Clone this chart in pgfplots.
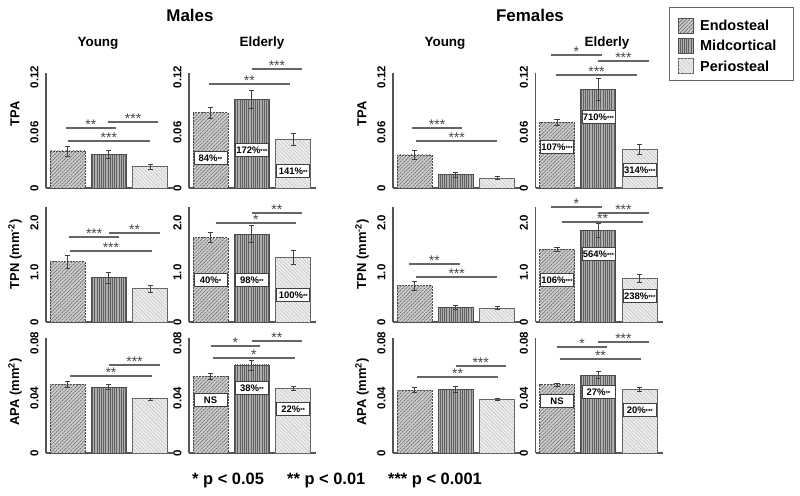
\documentclass[border=0pt]{standalone}
\usepackage{pgfplots}
\pgfplotsset{compat=1.18}
\usepackage{fontspec}
\setmainfont{Liberation Sans}
\usetikzlibrary{patterns.meta,calc}

\definecolor{axgray}{HTML}{555555}
\definecolor{siggray}{HTML}{666666}

\tikzset{
  endo/.style={fill=black!20, draw=black!70, line width=0.9bp, dash pattern=on 2bp off 1bp,
    postaction={pattern={Lines[angle=45,distance=2.6bp,line width=0.6bp]}, pattern color=black!60}},
  mid/.style={fill=black!32, draw=black!70, line width=0.9bp,
    postaction={pattern={Lines[angle=90,distance=2.2bp,line width=0.5bp]}, pattern color=black!62}},
  peri/.style={fill=black!7, draw=black!60, line width=0.9bp,
    postaction={pattern={Lines[angle=-45,distance=2.6bp,line width=0.4bp]}, pattern color=black!28}},
  sigline/.style={draw=siggray, line width=1.3bp},
  sigstar/.style={font=\fontsize{14}{14}\selectfont, text=black!72, anchor=base, inner sep=0pt, yshift=-1.8bp},
  inlab/.style={fill=white, draw=black!75, line width=0.7bp, minimum width=33bp, minimum height=13bp, inner sep=0pt, font=\bfseries\fontsize{9.5}{9.5}\selectfont},
  ylab/.style={rotate=90, font=\bfseries\fontsize{13}{13}\selectfont},
  legtxt/.style={anchor=west, inner sep=0pt, font=\bfseries\fontsize{14.5}{14.5}\selectfont},
}
\newcommand{\st}[1]{{\fontsize{6}{6}\selectfont #1}}
\newcommand{\sig}[4]{%
  \draw[sigline] (axis cs:#1,#3) -- (axis cs:#2,#3);
  \node[sigstar] at ($(axis cs:#1,#3)!0.5!(axis cs:#2,#3)$) {#4};}

\pgfplotsset{
  panel/.style={scale only axis, width=127bp, height=115bp, xmin=-0.52, xmax=2.55, ymin=0,
    axis x line*=bottom, axis y line*=left, axis line style={draw=axgray, line width=1.2bp},
    xtick=\empty, clip=false, major tick length=0pt, scaled y ticks=false,
    yticklabel style={rotate=90, anchor=south, font=\bfseries\fontsize{11.5}{11.5}\selectfont, text=black},
    yticklabel shift=4bp, anchor=south west},
  bar/.style={ybar, bar width=35bp, bar shift=0pt},
  err/.style={forget plot, draw=none, mark=none, error bars/.cd, y dir=both, y explicit,
    error bar style={draw=black!75, line width=0.8bp, solid},
    error mark options={rotate=90, mark size=2.6bp, draw=black!75, line width=0.8bp}},
  rowA/.style={ymax=0.1243, ytick={0,0.06,0.12}, yticklabels={0,0.06,0.12}},
  rowB/.style={ymax=2.32, ytick={0,1,2}, yticklabels={0,1.0,2.0}},
  rowC/.style={ymax=0.0836, ytick={0,0.04,0.08}, yticklabels={0,0.04,0.08}},
}

\begin{document}
\begin{tikzpicture}
\path[use as bounding box] (0,0) rectangle (800bp,-496bp);

% ---------------- Row 1: TPA ----------------
\begin{axis}[panel, rowA, at={(46bp,-188bp)}]
\addplot[bar, endo] coordinates {(0,0.040)};
\addplot[bar, mid] coordinates {(1,0.0365)};
\addplot[bar, peri] coordinates {(2,0.023)};
\addplot[err] coordinates {(0,0.040) +- (0,0.0054) (1,0.0365) +- (0,0.0040) (2,0.023) +- (0,0.0025)};
\sig{-0.04}{1.17}{0.0649}{**}
\sig{0.98}{2.19}{0.0714}{***}
\sig{0.01}{1.99}{0.0508}{***}
\node[ylab] at (axis description cs:-0.244,0.643) {TPA};
\end{axis}

\begin{axis}[panel, rowA, at={(189bp,-188bp)}]
\addplot[bar, endo] coordinates {(0,0.0814)};
\addplot[bar, mid] coordinates {(1,0.0959)};
\addplot[bar, peri] coordinates {(2,0.0526)};
\addplot[err] coordinates {(0,0.0814) +- (0,0.006) (1,0.0959) +- (0,0.010) (2,0.0526) +- (0,0.0063)};
\sig{-0.04}{1.92}{0.1124}{**}
\sig{1.0}{2.21}{0.1286}{***}
\node[inlab] at (axis cs:0,0.0324) {84\%\st{**}};
\node[inlab] at (axis cs:1,0.0411) {172\%\st{***}};
\node[inlab] at (axis cs:2,0.0184) {141\%\st{**}};
\end{axis}

\begin{axis}[panel, rowA, at={(393bp,-188bp)}]
\addplot[bar, endo] coordinates {(0,0.0357)};
\addplot[bar, mid] coordinates {(1,0.0144)};
\addplot[bar, peri] coordinates {(2,0.0105)};
\addplot[err] coordinates {(0,0.0357) +- (0,0.0047) (1,0.0144) +- (0,0.0025) (2,0.0105) +- (0,0.0016)};
\sig{-0.06}{1.15}{0.0649}{***}
\sig{0.04}{2.0}{0.0508}{***}
\node[ylab] at (axis description cs:-0.244,0.643) {TPA};
\end{axis}

\begin{axis}[panel, rowA, at={(535.5bp,-188bp)}]
\addplot[bar, endo] coordinates {(0,0.0710)};
\addplot[bar, mid] coordinates {(1,0.1067)};
\addplot[bar, peri] coordinates {(2,0.0418)};
\addplot[err] coordinates {(0,0.0710) +- (0,0.0032) (1,0.1067) +- (0,0.0117) (2,0.0418) +- (0,0.0054)};
\sig{-0.15}{1.09}{0.1438}{*}
\sig{0.99}{2.22}{0.1373}{***}
\sig{-0.02}{1.93}{0.1222}{***}
\node[inlab] at (axis cs:0,0.0443) {107\%\st{***}};
\node[inlab] at (axis cs:1,0.0768) {710\%\st{***}};
\node[inlab] at (axis cs:2,0.0195) {314\%\st{***}};
\end{axis}

% ---------------- Row 2: TPN ----------------
\begin{axis}[panel, rowB, at={(46bp,-322bp)}]
\addplot[bar, endo] coordinates {(0,1.218)};
\addplot[bar, mid] coordinates {(1,0.895)};
\addplot[bar, peri] coordinates {(2,0.667)};
\addplot[err] coordinates {(0,1.218) +- (0,0.128) (1,0.895) +- (0,0.11) (2,0.667) +- (0,0.07)};
\sig{0.04}{1.25}{1.717}{***}
\sig{1.0}{2.24}{1.798}{**}
\sig{0.06}{2.04}{1.434}{***}
\node[ylab] at (axis description cs:-0.244,0.59) {TPN (mm\textsuperscript{-2})};
\end{axis}

\begin{axis}[panel, rowB, at={(189bp,-322bp)}]
\addplot[bar, endo] coordinates {(0,1.703)};
\addplot[bar, mid] coordinates {(1,1.77)};
\addplot[bar, peri] coordinates {(2,1.306)};
\addplot[err] coordinates {(0,1.703) +- (0,0.095) (1,1.77) +- (0,0.17) (2,1.306) +- (0,0.14)};
\sig{1.0}{2.21}{2.20}{**}
\sig{0.13}{2.06}{2.0}{*}
\node[inlab] at (axis cs:0,0.85) {40\%\st{*}};
\node[inlab] at (axis cs:1,0.85) {98\%\st{**}};
\node[inlab] at (axis cs:2,0.545) {100\%\st{**}};
\end{axis}

\begin{axis}[panel, rowB, at={(393bp,-322bp)}]
\addplot[bar, endo] coordinates {(0,0.734)};
\addplot[bar, mid] coordinates {(1,0.296)};
\addplot[bar, peri] coordinates {(2,0.276)};
\addplot[err] coordinates {(0,0.734) +- (0,0.094) (1,0.296) +- (0,0.04) (2,0.276) +- (0,0.03)};
\sig{-0.13}{1.09}{1.17}{**}
\sig{0.04}{2.0}{0.91}{***}
\node[ylab] at (axis description cs:-0.244,0.59) {TPN (mm\textsuperscript{-2})};
\end{axis}

\begin{axis}[panel, rowB, at={(535.5bp,-322bp)}]
\addplot[bar, endo] coordinates {(0,1.468)};
\addplot[bar, mid] coordinates {(1,1.845)};
\addplot[bar, peri] coordinates {(2,0.882)};
\addplot[err] coordinates {(0,1.468) +- (0,0.047) (1,1.845) +- (0,0.14) (2,0.882) +- (0,0.088)};
\sig{-0.15}{1.09}{2.32}{*}
\sig{0.99}{2.22}{2.20}{***}
\sig{0.12}{2.08}{2.02}{**}
\node[inlab] at (axis cs:0,0.85) {106\%\st{***}};
\node[inlab] at (axis cs:1,1.37) {564\%\st{***}};
\node[inlab] at (axis cs:2,0.525) {238\%\st{***}};
\end{axis}

% ---------------- Row 3: APA ----------------
\begin{axis}[panel, rowC, at={(46bp,-453bp)}]
\addplot[bar, endo] coordinates {(0,0.050)};
\addplot[bar, mid] coordinates {(1,0.0478)};
\addplot[bar, peri] coordinates {(2,0.0393)};
\addplot[err] coordinates {(0,0.050) +- (0,0.0024) (1,0.0478) +- (0,0.0018) (2,0.0393) +- (0,0.0007)};
\sig{1.0}{2.24}{0.064}{***}
\sig{0.06}{2.04}{0.056}{**}
\node[ylab] at (axis description cs:-0.244,0.53) {APA (mm\textsuperscript{2})};
\end{axis}

\begin{axis}[panel, rowC, at={(189bp,-453bp)}]
\addplot[bar, endo] coordinates {(0,0.0555)};
\addplot[bar, mid] coordinates {(1,0.064)};
\addplot[bar, peri] coordinates {(2,0.0468)};
\addplot[err] coordinates {(0,0.0555) +- (0,0.0022) (1,0.064) +- (0,0.0036) (2,0.0468) +- (0,0.0015)};
\sig{0}{1.2}{0.0778}{*}
\sig{1.0}{2.21}{0.0815}{**}
\sig{0.06}{2.04}{0.0691}{*}
\node[inlab] at (axis cs:0,0.0385) {NS};
\node[inlab] at (axis cs:1,0.0473) {38\%\st{**}};
\node[inlab] at (axis cs:2,0.032) {22\%\st{**}};
\end{axis}

\begin{axis}[panel, rowC, at={(393bp,-453bp)}]
\addplot[bar, endo] coordinates {(0,0.0458)};
\addplot[bar, mid] coordinates {(1,0.0465)};
\addplot[bar, peri] coordinates {(2,0.039)};
\addplot[err] coordinates {(0,0.0458) +- (0,0.0018) (1,0.0465) +- (0,0.0022) (2,0.039) +- (0,0.0007)};
\sig{1.0}{2.2}{0.0633}{***}
\sig{0.06}{2.02}{0.0553}{**}
\node[ylab] at (axis description cs:-0.244,0.53) {APA (mm\textsuperscript{2})};
\end{axis}

\begin{axis}[panel, rowC, at={(535.5bp,-453bp)}]
\addplot[bar, endo] coordinates {(0,0.0495)};
\addplot[bar, mid] coordinates {(1,0.0567)};
\addplot[bar, peri] coordinates {(2,0.0463)};
\addplot[err] coordinates {(0,0.0495) +- (0,0.001) (1,0.0567) +- (0,0.0028) (2,0.0463) +- (0,0.0013)};
\sig{0}{1.21}{0.0771}{*}
\sig{0.99}{2.22}{0.0807}{***}
\sig{0.07}{2.03}{0.0684}{**}
\node[inlab] at (axis cs:0,0.0378) {NS};
\node[inlab] at (axis cs:1,0.0444) {27\%\st{**}};
\node[inlab] at (axis cs:2,0.0313) {20\%\st{***}};
\end{axis}

% ---------------- Legend ----------------
\draw[draw=black!60, line width=0.9bp, fill=white] (669bp,-7bp) rectangle (793bp,-80bp);
\draw[endo, solid] (678bp,-18bp) rectangle (693bp,-33bp);
\draw[mid] (678bp,-38bp) rectangle (693bp,-53bp);
\draw[peri] (678bp,-58.5bp) rectangle (693bp,-73.5bp);
\node[legtxt] at (700bp,-25.5bp) {Endosteal};
\node[legtxt] at (700bp,-45.5bp) {Midcortical};
\node[legtxt] at (700bp,-66bp) {Periosteal};

% ---------------- Titles and footer ----------------
\node[font=\bfseries\fontsize{17}{17}\selectfont] at (190bp,-15bp) {Males};
\node[font=\bfseries\fontsize{17}{17}\selectfont] at (530bp,-15bp) {Females};
\node[font=\bfseries\fontsize{13.5}{13.5}\selectfont] at (98bp,-43bp) {Young};
\node[font=\bfseries\fontsize{13.5}{13.5}\selectfont] at (262bp,-43bp) {Elderly};
\node[font=\bfseries\fontsize{13.5}{13.5}\selectfont] at (445bp,-43bp) {Young};
\node[font=\bfseries\fontsize{13.5}{13.5}\selectfont] at (607bp,-43bp) {Elderly};
\node[font=\bfseries\fontsize{16.5}{16.5}\selectfont, anchor=west, inner sep=0pt] at (192bp,-480bp) {* p < 0.05};
\node[font=\bfseries\fontsize{16.5}{16.5}\selectfont, anchor=west, inner sep=0pt] at (287bp,-480bp) {** p < 0.01};
\node[font=\bfseries\fontsize{16.5}{16.5}\selectfont, anchor=west, inner sep=0pt] at (388bp,-480bp) {*** p < 0.001};
\end{tikzpicture}
\end{document}
